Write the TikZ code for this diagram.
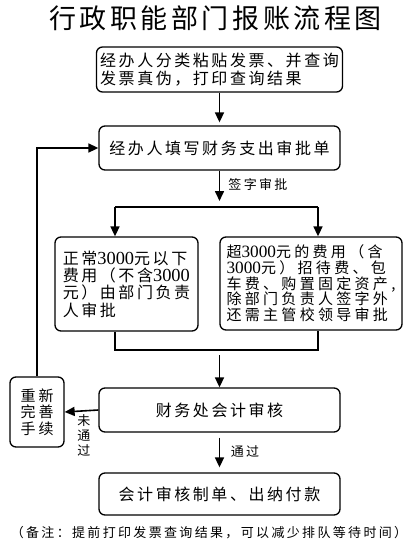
\documentclass[tikz,border=0pt]{standalone}
\usepackage{fontspec}
\setmainfont{Noto Sans CJK SC}
\newfontfamily\dig[Scale=1.15]{Liberation Serif}
\usetikzlibrary{arrows.meta}
\newcommand{\fz}[3]{\fontsize{#1}{#2}\selectfont\addfontfeature{LetterSpace=#3}}
\newcommand{\dg}[1]{{\dig #1}}
\begin{document}
\begin{tikzpicture}[x=1pt,y=-1pt,
  box/.style={draw, line width=1.3pt, rounded corners=6pt, inner sep=0pt, align=left},
  conn/.style={line width=1.6pt},
  arr/.style={conn, -{Triangle[length=10pt,width=9pt]}},
  lab/.style={font=\fz{13}{15}{18}, inner sep=0pt}]
\useasboundingbox (0,0) rectangle (411,550);
\node[font=\fz{27}{30}{13}] (title) at (215.5,18.5) {行政职能部门报账流程图};
\node[box, minimum width=246pt, minimum height=45pt, font=\fz{16}{18}{16}] (b1) at (219.5,69.5)
  {经办人分类粘贴发票、并查询\\发票真伪，打印查询结果};
\node[box, minimum width=241pt, minimum height=44pt, font=\fz{16}{18}{16}] (b2) at (219.5,148)
  {经办人填写财务支出审批单};
\node[box, minimum width=143pt, minimum height=94pt, font=\fz{16}{17.3}{16}] (b3) at (126.5,284)
  {正常\dg{3000}元以下\\费用（不含\dg{3000}\\元）由部门负责\\人审批};
\node[box, minimum width=182pt, minimum height=93pt, font=\fz{15}{15.7}{22}] (b4) at (311,283.5)
  {超\dg{3000}元的费用（含\\\dg{3000}元）招待费、包\\车费、购置固定资产,\\除部门负责人签字外\\还需主管校领导审批};
\node[box, minimum width=241pt, minimum height=44pt, font=\fz{16}{18}{16}] (b5) at (219.5,410)
  {财务处会计审核};
\node[box, minimum width=54pt, minimum height=70pt, align=center, font=\fz{15}{16.5}{20}] (b6) at (37,412)
  {重新\\完善\\手续};
\node[box, minimum width=241pt, minimum height=42pt, font=\fz{16}{18}{16}] (b7) at (219.5,494)
  {会计审核制单、出纳付款};
\node[font=\fz{13}{15}{18}] (note) at (209,533) {（备注：提前打印发票查询结果，可以减少排队等待时间）};
% connectors
\draw[arr, shorten >=3pt] (b1.south) -- (b2.north);
\coordinate (sp) at (219.5,207);
\draw[arr, shorten >=6pt] (b2.south) -- (sp);
\node[lab] (l1) at (258,185) {签字审批};
\coordinate (sl) at (115,207);
\coordinate (sr) at (318,207);
\draw[conn] (sl) -- (sr);
\draw[arr] (sl) -- (sl |- b3.north);
\draw[arr] (sr) -- (sr |- b4.north);
\coordinate (ml) at (115,350);
\coordinate (mr) at (318,350);
\draw[conn] (ml |- b3.south) -- (ml) -- (mr) -- (mr |- b4.south);
\coordinate (mm) at (219.5,350);
\draw[arr, shorten <=5pt] (mm) -- (b5.north);
\draw[arr] (b5.west) -- (b6.east);
\node[lab, align=center] (l2) at (84,435) {未\\通\\过};
\draw[arr] (b6.north) |- (b2.west);
\draw[arr, shorten <=5pt, shorten >=5pt] (b5.south) -- (b7.north);
\node[lab] (l3) at (245,452) {通过};
\end{tikzpicture}
\end{document}
